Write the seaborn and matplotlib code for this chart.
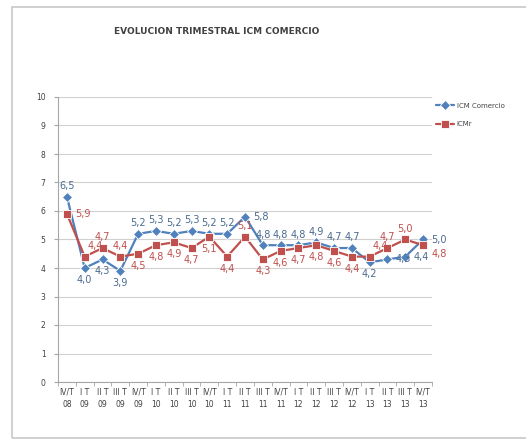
import matplotlib
matplotlib.use("Agg")
import matplotlib.pyplot as plt
import seaborn as sns
import pandas as pd
from matplotlib.patches import Rectangle

# ---- data ----
quarters = ["IV/T\n08", "I T\n09", "II T\n09", "III T\n09", "IV/T\n09",
            "I T\n10", "II T\n10", "III T\n10", "IV/T\n10",
            "I T\n11", "II T\n11", "III T\n11", "IV/T\n11",
            "I T\n12", "II T\n12", "III T\n12", "IV/T\n12",
            "I T\n13", "II T\n13", "III T\n13", "IV/T\n13"]
icm_comercio = [6.5, 4.0, 4.3, 3.9, 5.2, 5.3, 5.2, 5.3, 5.2, 5.2, 5.8,
                4.8, 4.8, 4.8, 4.9, 4.7, 4.7, 4.2, 4.3, 4.4, 5.0]
icmr = [5.9, 4.4, 4.7, 4.4, 4.5, 4.8, 4.9, 4.7, 5.1, 4.4, 5.1,
        4.3, 4.6, 4.7, 4.8, 4.6, 4.4, 4.4, 4.7, 5.0, 4.8]
series_names = ["ICM Comercio", "ICMr"]
title = "EVOLUCION TRIMESTRAL ICM COMERCIO"

# ---- styles ----
BLUE = "#4F81BD"
RED = "#C0504D"
BLUE_TXT = "#4A6B8F"
RED_TXT = "#C0504D"
# label placement (a = above, b = below, r = right, ra = right-above, rb = right-below)
blue_pos = ["a", "b", "b", "b", "a", "a", "a", "a", "a", "a", "r",
            "a", "a", "a", "a", "a", "a", "b", "r", "r", "r"]
red_pos = ["r", "ra", "a", "a", "b", "b", "b", "b", "b", "b", "a",
           "b", "b", "b", "b", "b", "b", "ra", "a", "a", "rb"]

n = len(quarters)
df = pd.DataFrame({
    "pos": list(range(n)) * 2,
    "value": icm_comercio + icmr,
    "serie": [series_names[0]] * n + [series_names[1]] * n,
})

sns.set_style("white")
plt.rcParams["font.family"] = ["DejaVu Sans"]

fig = plt.figure(figsize=(5.26, 4.40), dpi=100)
W, H = 526, 440
ax = fig.add_axes([58 / W, 1 - 382 / H, (432 - 58) / W, (382 - 97) / H])

# outer chart border (right edge lies outside the picture)
fig.patches.append(Rectangle((12 / W, 1 - 438 / H), (W + 20 - 12) / W, (438 - 7) / H,
                             transform=fig.transFigure, fill=False,
                             edgecolor="#C8C8C8", linewidth=1.2))

sns.lineplot(data=df, x="pos", y="value", hue="serie", style="serie",
             palette={series_names[0]: BLUE, series_names[1]: RED},
             markers={series_names[0]: "D", series_names[1]: "s"},
             dashes=False, linewidth=1.6, markersize=4.8,
             markeredgewidth=0.6, ax=ax, legend=True)
for line in ax.lines:
    if line.get_marker() == "s":
        line.set_markersize(6)

ax.set_xlim(-0.5, n - 0.5)
ax.set_ylim(0, 10)
ax.set_yticks(range(0, 11))
ax.set_yticklabels([str(i) for i in range(0, 11)], fontsize=5.5, color="#404040")
ax.set_xticks(range(n))
ax.set_xticklabels(quarters, fontsize=5.5, color="#404040", linespacing=1.5)
ax.set_xlabel("")
ax.set_ylabel("")
ax.grid(axis="y", color="#D0D0D0", linewidth=0.8)
ax.set_axisbelow(True)
for s in ["top", "right"]:
    ax.spines[s].set_visible(False)
for s in ["left", "bottom"]:
    ax.spines[s].set_color("#A6A6A6")
    ax.spines[s].set_linewidth(0.8)
ax.tick_params(axis="y", length=3, color="#A6A6A6", pad=6, left=True)
ax.tick_params(axis="x", length=0, pad=4, bottom=True)
# category separators ticks
ax.set_xticks([i - 0.5 for i in range(n + 1)], minor=True)
ax.tick_params(axis="x", which="minor", length=3, color="#A6A6A6", bottom=True)


def place(vals, poses, color):
    for i, (v, p) in enumerate(zip(vals, poses)):
        txt = f"{v:.1f}".replace(".", ",")
        if p == "a":
            off, ha, va = (0, 4), "center", "bottom"
        elif p == "b":
            off, ha, va = (0, -5), "center", "top"
        elif p == "r":
            off, ha, va = (6, 0), "left", "center"
        elif p == "ra":
            off, ha, va = (2, 4), "left", "bottom"
        else:
            off, ha, va = (6, -6), "left", "center"
        ax.annotate(txt, (i, v), xytext=off, textcoords="offset points",
                    ha=ha, va=va, fontsize=7, color=color)


place(icm_comercio, blue_pos, BLUE_TXT)
place(icmr, red_pos, RED_TXT)

leg = ax.legend(loc="upper left", bbox_to_anchor=(433 / W, 1 - 100 / H),
                bbox_transform=fig.transFigure, frameon=False, fontsize=5,
                handlelength=2.6, labelspacing=1.8, handletextpad=0.4,
                borderaxespad=0)
for t in leg.get_texts():
    t.set_color("#444444")

fig.text(217 / W, 1 - 31 / H, title, ha="center", va="center",
         fontsize=6.5, fontweight="bold", color="#404040")

fig.savefig("out.png", dpi=100)
